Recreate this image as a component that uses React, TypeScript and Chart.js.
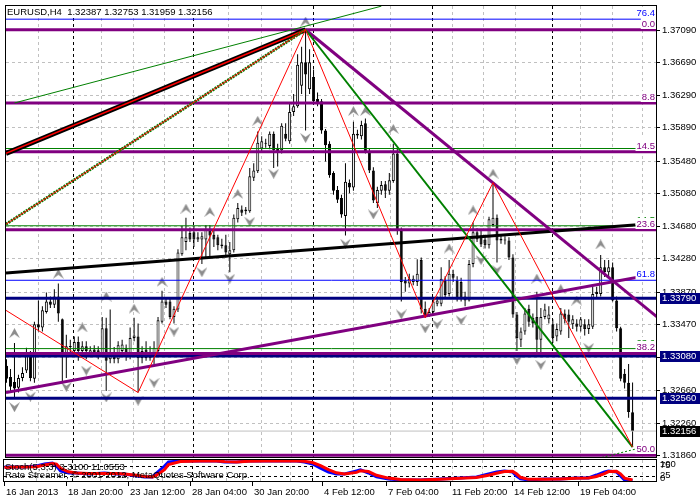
import React, { useEffect, useRef } from 'react';
import { Chart, registerables } from 'chart.js';

Chart.register(...registerables);

const FONT = '9.5px "Liberation Sans", Arial, sans-serif';

// ---------------- data ----------------
const symbolTitle = 'EURUSD,H4';
const lastBarOHLC = ['1.32387', '1.32753', '1.31959', '1.32156'];

const openP = [
  1.3296, 1.3282, 1.3276, 1.3269, 1.3281, 1.3290, 1.3308, 1.3280, 1.3347, 1.3343,
  1.3362, 1.3375, 1.3371, 1.3381, 1.3353, 1.3311, 1.3319, 1.3314, 1.3325, 1.3314,
  1.3320, 1.3311, 1.3316, 1.3315, 1.3310, 1.3342, 1.3304, 1.3311, 1.3304, 1.3314,
  1.3318, 1.3308, 1.3330, 1.3332, 1.3314, 1.3316, 1.3305, 1.3310, 1.3314, 1.3350,
  1.3375, 1.3375, 1.3356, 1.3365, 1.3433, 1.3448, 1.3459, 1.3460, 1.3451, 1.3451,
  1.3451, 1.3462, 1.3457, 1.3454, 1.3445, 1.3444, 1.3433, 1.3438, 1.3476, 1.3488,
  1.3488, 1.3486, 1.3527, 1.3535, 1.3563, 1.3569, 1.3566, 1.3581, 1.3563, 1.3561,
  1.3581, 1.3572, 1.3608, 1.3615, 1.3640, 1.3669, 1.3636, 1.3651, 1.3624, 1.3621,
  1.3585, 1.3569, 1.3533, 1.3512, 1.3502, 1.3480, 1.3521, 1.3515, 1.3579, 1.3578,
  1.3594, 1.3559, 1.3536, 1.3496, 1.3511, 1.3519, 1.3511, 1.3523, 1.3557, 1.3462,
  1.3401, 1.3397, 1.3399, 1.3399, 1.3426, 1.3366, 1.3358, 1.3362, 1.3372, 1.3372,
  1.3401, 1.3384, 1.3409, 1.3401, 1.3399, 1.3381, 1.3376, 1.3421, 1.3460, 1.3456,
  1.3451, 1.3444, 1.3469, 1.3478, 1.3452, 1.3451, 1.3450, 1.3429, 1.3359, 1.3328,
  1.3338, 1.3366, 1.3355, 1.3356, 1.3328, 1.3356, 1.3353, 1.3347, 1.3332, 1.3338,
  1.3360, 1.3359, 1.3347, 1.3348, 1.3344, 1.3347, 1.3341, 1.3344, 1.3387, 1.3384,
  1.3417, 1.3411, 1.3417, 1.3376, 1.3342, 1.3286, 1.3275, 1.32387,
];
const highP = [
  1.3304, 1.3292, 1.3324, 1.3285, 1.3294, 1.3318, 1.3314, 1.3350, 1.3376, 1.3369,
  1.3386, 1.3381, 1.3390, 1.3397, 1.3354, 1.3334, 1.3328, 1.3332, 1.3332, 1.3326,
  1.3326, 1.3320, 1.3321, 1.3320, 1.3356, 1.3355, 1.3365, 1.3319, 1.3326, 1.3328,
  1.3322, 1.3343, 1.3355, 1.3348, 1.3320, 1.3326, 1.3320, 1.3326, 1.3356, 1.3388,
  1.3379, 1.3379, 1.3369, 1.3439, 1.3468, 1.3478, 1.3466, 1.3468, 1.3460, 1.3460,
  1.3469, 1.3469, 1.3462, 1.3457, 1.3452, 1.3457, 1.3448, 1.3482, 1.3496, 1.3493,
  1.3491, 1.3539, 1.3545, 1.3584, 1.3578, 1.3575, 1.3584, 1.3584, 1.3569, 1.3594,
  1.3594, 1.3620, 1.3630, 1.3679, 1.3688, 1.3709, 1.3685, 1.3660, 1.3632, 1.3624,
  1.3587, 1.3572, 1.3535, 1.3517, 1.3506, 1.3545, 1.3525, 1.3596, 1.3586, 1.3597,
  1.3600, 1.3563, 1.3540, 1.3516, 1.3523, 1.3523, 1.3533, 1.3569, 1.3563, 1.3466,
  1.3405, 1.3409, 1.3407, 1.3427, 1.3429, 1.3375, 1.3367, 1.3379, 1.3381, 1.3417,
  1.3406, 1.3426, 1.3414, 1.3406, 1.3404, 1.3387, 1.3426, 1.3472, 1.3465, 1.3462,
  1.3457, 1.3479, 1.3521, 1.3482, 1.3457, 1.3455, 1.3454, 1.3433, 1.3362, 1.3343,
  1.3367, 1.3371, 1.3360, 1.3387, 1.3367, 1.3372, 1.3369, 1.3353, 1.3348, 1.3367,
  1.3365, 1.3365, 1.3358, 1.3353, 1.3356, 1.3353, 1.3353, 1.3393, 1.3393, 1.3432,
  1.3426, 1.3426, 1.3423, 1.3381, 1.3344, 1.3292, 1.3298, 1.32753,
];
const lowP = [
  1.3275, 1.3265, 1.3257, 1.3263, 1.3277, 1.3287, 1.3277, 1.3275, 1.3338, 1.3338,
  1.3360, 1.3367, 1.3367, 1.3350, 1.3277, 1.3281, 1.3311, 1.3308, 1.3302, 1.3308,
  1.3304, 1.3307, 1.3307, 1.3304, 1.3307, 1.3265, 1.3299, 1.3299, 1.3299, 1.3310,
  1.3302, 1.3304, 1.3326, 1.3263, 1.3299, 1.3302, 1.3302, 1.3298, 1.3310, 1.3348,
  1.3367, 1.3353, 1.3348, 1.3362, 1.3431, 1.3438, 1.3448, 1.3442, 1.3448, 1.3421,
  1.3429, 1.3429, 1.3442, 1.3438, 1.3440, 1.3429, 1.3411, 1.3435, 1.3472, 1.3480,
  1.3482, 1.3484, 1.3523, 1.3533, 1.3559, 1.3564, 1.3562, 1.3539, 1.3541, 1.3557,
  1.3572, 1.3569, 1.3603, 1.3613, 1.3630, 1.3585, 1.3630, 1.3618, 1.3615, 1.3581,
  1.3547, 1.3527, 1.3506, 1.3496, 1.3478, 1.3456, 1.3508, 1.3511, 1.3575, 1.3574,
  1.3557, 1.3533, 1.3496, 1.3490, 1.3506, 1.3502, 1.3506, 1.3521, 1.3457, 1.3375,
  1.3387, 1.3392, 1.3395, 1.3394, 1.3360, 1.3355, 1.3356, 1.3360, 1.3369, 1.3369,
  1.3378, 1.3381, 1.3399, 1.3375, 1.3375, 1.3369, 1.3375, 1.3417, 1.3448, 1.3442,
  1.3440, 1.3440, 1.3467, 1.3423, 1.3446, 1.3445, 1.3426, 1.3355, 1.3314, 1.3319,
  1.3334, 1.3344, 1.3343, 1.3310, 1.3307, 1.3353, 1.3348, 1.3324, 1.3326, 1.3334,
  1.3348, 1.3330, 1.3341, 1.3338, 1.3338, 1.3333, 1.3335, 1.3341, 1.3379, 1.3381,
  1.3405, 1.3406, 1.3375, 1.3338, 1.3277, 1.3268, 1.3232, 1.31959,
];
const closeP = [
  1.3280, 1.3270, 1.3268, 1.3281, 1.3287, 1.3309, 1.3281, 1.3347, 1.3343, 1.3364,
  1.3375, 1.3371, 1.3381, 1.3360, 1.3311, 1.3320, 1.3320, 1.3325, 1.3314, 1.3320,
  1.3314, 1.3315, 1.3311, 1.3309, 1.3342, 1.3302, 1.3311, 1.3304, 1.3321, 1.3322,
  1.3308, 1.3330, 1.3333, 1.3305, 1.3305, 1.3305, 1.3311, 1.3318, 1.3352, 1.3375,
  1.3371, 1.3356, 1.3366, 1.3435, 1.3454, 1.3454, 1.3451, 1.3451, 1.3454, 1.3455,
  1.3463, 1.3456, 1.3451, 1.3444, 1.3443, 1.3435, 1.3438, 1.3478, 1.3490, 1.3484,
  1.3486, 1.3529, 1.3536, 1.3570, 1.3572, 1.3570, 1.3581, 1.3561, 1.3559, 1.3591,
  1.3575, 1.3608, 1.3615, 1.3666, 1.3669, 1.3654, 1.3669, 1.3621, 1.3620, 1.3585,
  1.3567, 1.3530, 1.3511, 1.3500, 1.3482, 1.3522, 1.3515, 1.3581, 1.3581, 1.3592,
  1.3559, 1.3536, 1.3499, 1.3512, 1.3518, 1.3511, 1.3524, 1.3557, 1.3462, 1.3399,
  1.3397, 1.3403, 1.3403, 1.3409, 1.3365, 1.3358, 1.3362, 1.3375, 1.3376, 1.3403,
  1.3383, 1.3409, 1.3404, 1.3378, 1.3379, 1.3376, 1.3421, 1.3460, 1.3451, 1.3445,
  1.3444, 1.3476, 1.3478, 1.3450, 1.3450, 1.3450, 1.3429, 1.3359, 1.3330, 1.3338,
  1.3360, 1.3350, 1.3348, 1.3328, 1.3356, 1.3365, 1.3359, 1.3330, 1.3341, 1.3360,
  1.3353, 1.3350, 1.3353, 1.3344, 1.3353, 1.3341, 1.3347, 1.3384, 1.3384, 1.3417,
  1.3411, 1.3417, 1.3376, 1.3342, 1.3280, 1.3275, 1.3239, 1.32156,
];

const priceTicks = [1.3709, 1.3669, 1.3629, 1.3589, 1.3548, 1.3508, 1.3468, 1.3428, 1.3387, 1.3347, 1.3307, 1.3266, 1.3226, 1.3186];

const timeLabels = ['16 Jan 2013', '18 Jan 20:00', '23 Jan 12:00', '28 Jan 04:00', '30 Jan 20:00', '4 Feb 12:00', '7 Feb 04:00', '11 Feb 20:00', '14 Feb 12:00', '19 Feb 04:00'];
const timeIdx = [-0.125, 15.6, 30.9, 46.4, 61.9, 79.4, 95.6, 111.4, 127.1, 143.4];
const gridIdx = [7.9, 23.9, 31.9, 39.6, 55.6, 63.9, 71.4, 86.9, 96.4, 111.9, 119.6, 127.6, 143.9, 151.9, 159.6];
const separatorIdx = [16.9, 46.9, 76.9, 106.9, 136.9];

const fractalUpIdx = [2, 13, 19, 25, 32, 39, 45, 51, 58, 63, 75, 87, 90, 97, 111, 117, 122, 133, 139, 143, 149];
const fractalUpPrice = [1.3336, 1.3409, 1.3343, 1.3381, 1.3366, 1.3399, 1.3489, 1.3485, 1.3507, 1.3597, 1.3719, 1.3609, 1.3609, 1.3587, 1.3440, 1.3487, 1.3532, 1.3403, 1.3390, 1.3376, 1.3445];
const fractalDnIdx = [2, 6, 15, 20, 25, 33, 37, 42, 49, 56, 61, 67, 75, 85, 92, 99, 105, 108, 114, 119, 123, 128, 134, 146];
const fractalDnPrice = [1.3245, 1.3258, 1.3270, 1.3290, 1.3257, 1.3253, 1.3275, 1.3338, 1.3411, 1.3403, 1.3473, 1.3532, 1.3576, 1.3446, 1.3482, 1.3359, 1.3342, 1.3347, 1.3352, 1.3426, 1.3414, 1.3303, 1.3297, 1.3318];

const fibPurplePrices = [1.3709, 1.3619, 1.3559, 1.3463, 1.3311, 1.3186];
const fibPurpleLabels = ['0.0', '8.8', '14.5', '23.6', '38.2', '50.0'];
const fibGreenPrices = [1.3563, 1.3468, 1.3317];
const fibGreenLabels = ['0.0', '14.5', '23.6'];
const fibBluePrices = [1.3722, 1.3401];
const fibBlueLabels = ['76.4', '61.8'];
const supportPrices = [1.3379, 1.3308, 1.3256];
const bidPrice = 1.32156;

const zigzagIdx = [-0.125, 33, 75, 105, 122, 157];
const zigzagPrice = [1.3364, 1.3263, 1.3709, 1.3355, 1.3521, 1.31959];
const trendBlackIdx = [-0.125, 163.125];
const trendBlackPrice = [1.3410, 1.3471];
const trendPurpleUpIdx = [-0.125, 163.125];
const trendPurpleUpPrice = [1.3263, 1.3409];
const trendPurpleDnIdx = [75, 163.125];
const trendPurpleDnPrice = [1.3709, 1.3356];
const trendGreenDnIdx = [75, 157];
const trendGreenDnPrice = [1.3709, 1.31959];
const gannBlackIdx = [-0.125, 75];
const gannBlackPrice = [1.3557, 1.3709];
const gannGreenIdx = [-0.125, 75];
const gannGreenPrice = [1.3470, 1.3709];
const rayGreenIdx = [2, 94];
const rayGreenPrice = [1.3619, 1.3738];
const rayGreenLowIdx = [148.3, 163.125];
const rayGreenLowPrice = [1.3182, 1.3200];

const stochIdx = [0, 3, 5, 8, 10, 12, 13, 14, 16, 18, 21, 25, 28, 30, 33, 35, 37, 38, 40, 41, 44, 49, 53, 55, 58, 61, 65, 69, 73, 75, 77, 79, 81, 83, 85, 88, 89, 91, 93, 96, 99, 104, 109, 114, 118, 119, 121, 123, 125, 127, 128, 129, 131, 135, 139, 143, 146, 148, 150, 151, 153, 154, 155, 157];
const stochMain = [68, 68, 68, 73, 83, 88, 73, 49, 39, 39, 34, 39, 34, 34, 24, 20, 20, 39, 73, 93, 98, 98, 98, 93, 93, 98, 98, 98, 98, 93, 83, 63, 44, 34, 34, 49, 54, 39, 20, 10, 5, 5, 10, 15, 20, 24, 34, 44, 49, 44, 24, 10, 5, 10, 10, 15, 15, 29, 44, 49, 44, 24, 5, 2];
const stochSignal = [66, 68, 68, 70, 78, 85, 82, 62, 45, 39, 36, 37, 36, 34, 28, 22, 20, 28, 55, 80, 95, 98, 98, 95, 93, 96, 98, 98, 98, 96, 90, 75, 55, 40, 34, 42, 50, 46, 28, 14, 7, 5, 8, 13, 17, 21, 28, 38, 46, 47, 35, 18, 8, 8, 10, 13, 15, 22, 36, 46, 47, 35, 14, 5];
const stochLevels = [75, 25];
const stochTitle = 'Stoch(5,3,3) 3.3100 11.0553';
const copyrightText = 'Rate Streamer, © 2001-2012, MetaQuotes Software Corp.';

// ---------------- layout constants ----------------
const X_MIN = -0.125;
const X_MAX = 163.125;
const Y_MIN = 1.31825;
const Y_MAX = 1.37382;

const PURPLE = '#800080';
const NAVY = '#000080';
const GREEN = '#008000';
const BLUE = '#0000ff';
const RED = '#ff0000';

const pts = (xs: number[], ys: number[]) => xs.map((v, k) => ({ x: v, y: ys[k] }));
const hline = (p: number) => pts([X_MIN, X_MAX], [p, p]);

function lineDs(data: any[], color: string, width: number, extra: any = {}) {
  return {
    type: 'line', data, borderColor: color, borderWidth: width, pointRadius: 0,
    pointHoverRadius: 0, fill: false, tension: 0, borderCapStyle: 'butt', ...extra,
  };
}

function makeArrow(up: boolean) {
  const c = document.createElement('canvas');
  c.width = 11; c.height = 10;
  const g = c.getContext('2d')!;
  g.fillStyle = '#8c8c8c';
  g.beginPath();
  if (up) { g.moveTo(5.5, 0); g.lineTo(11, 10); g.lineTo(5.5, 6); g.lineTo(0, 10); }
  else { g.moveTo(5.5, 10); g.lineTo(11, 0); g.lineTo(5.5, 4); g.lineTo(0, 0); }
  g.closePath(); g.fill();
  return c;
}

const mainDecor = {
  id: 'mainDecor',
  beforeDatasetsDraw(chart: any) {
    const { ctx, chartArea: a } = chart;
    const xs = chart.scales.x, ys = chart.scales.y;
    ctx.save();
    ctx.beginPath(); ctx.rect(a.left, a.top, a.right - a.left, a.bottom - a.top); ctx.clip();
    ctx.lineWidth = 1;
    ctx.setLineDash([3, 3]);
    ctx.strokeStyle = '#c0c0c0';
    ctx.beginPath();
    priceTicks.forEach((p) => { const py = Math.round(ys.getPixelForValue(p)) + 0.5; ctx.moveTo(a.left, py); ctx.lineTo(a.right, py); });
    gridIdx.forEach((i) => { const px = Math.floor(xs.getPixelForValue(i)) + 0.5; ctx.moveTo(px, a.top); ctx.lineTo(px, a.bottom); });
    ctx.stroke();
    ctx.strokeStyle = '#000';
    ctx.beginPath();
    separatorIdx.forEach((i) => { const px = Math.floor(xs.getPixelForValue(i)) + 0.5; ctx.moveTo(px, a.top); ctx.lineTo(px, a.bottom); });
    ctx.stroke();
    ctx.restore();
  },
  afterDatasetsDraw(chart: any) {
    const { ctx, chartArea: a } = chart;
    const ys = chart.scales.y;
    ctx.save();
    ctx.font = FONT;
    ctx.setLineDash([]);
    const levelLabel = (txt: string, p: number, color: string) => {
      const py = Math.round(ys.getPixelForValue(p));
      const w = ctx.measureText(txt).width;
      const xr = a.right - 2;
      ctx.fillStyle = '#fff';
      ctx.fillRect(xr - w - 1, py - 12, w + 2, 11);
      ctx.fillStyle = color;
      ctx.textAlign = 'right';
      ctx.textBaseline = 'alphabetic';
      ctx.fillText(txt, xr, py - 3);
    };
    fibGreenPrices.forEach((p, k) => levelLabel(fibGreenLabels[k], p, GREEN));
    fibBluePrices.forEach((p, k) => levelLabel(fibBlueLabels[k], p, BLUE));
    fibPurplePrices.forEach((p, k) => levelLabel(fibPurpleLabels[k], p, PURPLE));

    const head = symbolTitle + '  ' + lastBarOHLC.join(' ');
    const hw = ctx.measureText(head).width;
    ctx.fillStyle = '#fff';
    ctx.fillRect(6, 4, hw + 3, 13);
    ctx.fillStyle = '#000';
    ctx.textAlign = 'left';
    ctx.textBaseline = 'alphabetic';
    ctx.fillText(head, 7, 15);

    ctx.strokeStyle = '#000';
    ctx.lineWidth = 1;
    ctx.strokeRect(a.left - 0.5, a.top - 0.5, a.right - a.left, a.bottom - a.top);

    ctx.textBaseline = 'middle';
    ctx.beginPath();
    priceTicks.forEach((p) => {
      const py = Math.round(ys.getPixelForValue(p)) + 0.5;
      ctx.moveTo(a.right, py); ctx.lineTo(a.right + 3, py);
    });
    ctx.stroke();
    ctx.fillStyle = '#000';
    priceTicks.forEach((p) => {
      const py = Math.round(ys.getPixelForValue(p)) + 0.5;
      ctx.fillText(p.toFixed(5), a.right + 5, py);
    });
    const box = (p: number, bg: string) => {
      const py = Math.round(ys.getPixelForValue(p));
      ctx.fillStyle = bg;
      ctx.fillRect(a.right + 3, py - 5, 700 - a.right - 3, 11);
      ctx.fillStyle = '#fff';
      ctx.fillText(p.toFixed(5), a.right + 5, py + 0.5);
    };
    supportPrices.forEach((p) => box(p, NAVY));
    box(bidPrice, '#000');
    ctx.restore();
  },
};

const subDecor = {
  id: 'subDecor',
  beforeDatasetsDraw(chart: any) {
    const { ctx, chartArea: a } = chart;
    const xs = chart.scales.x, ys = chart.scales.y;
    ctx.save();
    ctx.beginPath(); ctx.rect(a.left, a.top, a.right - a.left, a.bottom - a.top); ctx.clip();
    ctx.lineWidth = 1;
    ctx.setLineDash([3, 3]);
    ctx.strokeStyle = '#c0c0c0';
    ctx.beginPath();
    gridIdx.forEach((i) => { const px = Math.floor(xs.getPixelForValue(i)) + 0.5; ctx.moveTo(px, a.top); ctx.lineTo(px, a.bottom); });
    ctx.stroke();
    ctx.strokeStyle = '#000';
    ctx.beginPath();
    separatorIdx.forEach((i) => { const px = Math.floor(xs.getPixelForValue(i)) + 0.5; ctx.moveTo(px, a.top); ctx.lineTo(px, a.bottom); });
    stochLevels.forEach((v) => { const py = Math.round(ys.getPixelForValue(v)) + 0.5; ctx.moveTo(a.left, py); ctx.lineTo(a.right, py); });
    ctx.stroke();
    ctx.restore();
  },
  afterDatasetsDraw(chart: any) {
    const { ctx, chartArea: a } = chart;
    const xs = chart.scales.x, ys = chart.scales.y;
    ctx.save();
    ctx.font = FONT;
    ctx.fillStyle = '#000';
    ctx.textAlign = 'left';
    ctx.textBaseline = 'alphabetic';
    ctx.fillText(stochTitle, 5, 12);
    ctx.fillText(copyrightText, 5, 20);
    ctx.strokeStyle = '#000';
    ctx.lineWidth = 1;
    ctx.strokeRect(a.left - 0.5, a.top - 0.5, a.right - a.left, a.bottom - a.top);
    ctx.textBaseline = 'top';
    ctx.fillText('100', a.right + 3, a.top);
    ctx.textBaseline = 'middle';
    stochLevels.forEach((v) => ctx.fillText(String(v), a.right + 3, ys.getPixelForValue(v)));
    ctx.textBaseline = 'bottom';
    ctx.fillText('0', a.right + 3, a.bottom + 1);
    ctx.beginPath();
    timeIdx.forEach((i) => {
      const px = Math.max(a.left - 1, Math.floor(xs.getPixelForValue(i))) + 0.5;
      ctx.moveTo(px, a.bottom); ctx.lineTo(px, a.bottom + 4);
    });
    ctx.stroke();
    ctx.textBaseline = 'top';
    timeIdx.forEach((i, k) => {
      const px = Math.max(a.left - 1, Math.floor(xs.getPixelForValue(i)));
      ctx.fillText(timeLabels[k], px + 2, a.bottom + 6);
    });
    ctx.restore();
  },
};

export default function App() {
  const mainRef = useRef<HTMLCanvasElement>(null);
  const subRef = useRef<HTMLCanvasElement>(null);

  useEffect(() => {
    const idx = openP.map((_, i) => i);
    const wickData = idx.map((i) => ({ x: i, y: [lowP[i], highP[i]] }));
    const bodyData = idx.map((i) => ({ x: i, y: [openP[i], closeP[i]] }));
    const bodyColors = idx.map((i) => (closeP[i] >= openP[i] ? '#ffffff' : '#000000'));
    const upArrow = makeArrow(true);
    const dnArrow = makeArrow(false);

    const layers: any[] = [
      { type: 'bar', data: wickData, backgroundColor: '#000', borderWidth: 0, grouped: false, barThickness: 1, maxBarThickness: 1, inflateAmount: 0 },
      { type: 'bar', data: bodyData, backgroundColor: bodyColors, borderColor: '#000', borderWidth: 1, borderSkipped: false, grouped: false, barThickness: 3, maxBarThickness: 3, minBarLength: 1, inflateAmount: 0 },
      { type: 'scatter', data: pts(fractalUpIdx, fractalUpPrice), pointStyle: upArrow, pointRadius: 5, pointHoverRadius: 5, showLine: false },
      { type: 'scatter', data: pts(fractalDnIdx, fractalDnPrice), pointStyle: dnArrow, pointRadius: 5, pointHoverRadius: 5, showLine: false },
      lineDs(hline(bidPrice), '#c0c0c0', 1),
      ...fibBluePrices.map((p) => lineDs(hline(p), BLUE, 1)),
      ...fibGreenPrices.map((p) => lineDs(hline(p), GREEN, 1)),
      ...supportPrices.map((p) => lineDs(hline(p), NAVY, 3)),
      ...fibPurplePrices.map((p) => lineDs(hline(p), PURPLE, 3)),
      lineDs(pts(trendBlackIdx, trendBlackPrice), '#000', 3),
      lineDs(pts(trendPurpleUpIdx, trendPurpleUpPrice), PURPLE, 3),
      lineDs(pts(trendPurpleDnIdx, trendPurpleDnPrice), PURPLE, 3),
      lineDs(pts(trendGreenDnIdx, trendGreenDnPrice), GREEN, 2),
      lineDs(pts(rayGreenIdx, rayGreenPrice), GREEN, 1),
      lineDs(pts(rayGreenLowIdx, rayGreenLowPrice), GREEN, 1, { borderDash: [2, 2] }),
      lineDs(pts(gannBlackIdx, gannBlackPrice), '#000', 5),
      lineDs(pts(gannBlackIdx, gannBlackPrice), RED, 1.5),
      lineDs(pts(gannGreenIdx, gannGreenPrice), GREEN, 3, { borderDash: [2, 1] }),
      lineDs(pts(gannGreenIdx, gannGreenPrice), RED, 1),
      lineDs(pts(zigzagIdx, zigzagPrice), RED, 1),
    ];
    const n = layers.length;
    layers.forEach((d, k) => { d.order = n - k; });

    const main = new Chart(mainRef.current as HTMLCanvasElement, {
      type: 'bar',
      data: { datasets: layers },
      options: {
        responsive: false,
        animation: false,
        events: [],
        layout: { padding: { left: 4, right: 43, top: 1, bottom: 42 } },
        plugins: { legend: { display: false }, tooltip: { enabled: false } },
        scales: {
          x: { type: 'linear', min: X_MIN, max: X_MAX, display: false, offset: false },
          y: { type: 'linear', min: Y_MIN, max: Y_MAX, display: false },
        },
      } as any,
      plugins: [mainDecor],
    } as any);

    const sub = new Chart(subRef.current as HTMLCanvasElement, {
      type: 'line',
      data: {
        datasets: [
          { ...lineDs(pts(stochIdx, stochSignal), RED, 3), order: 1 },
          { ...lineDs(pts(stochIdx, stochMain), BLUE, 3), order: 2 },
        ],
      },
      options: {
        responsive: false,
        animation: false,
        events: [],
        layout: { padding: { left: 4, right: 43, top: 2, bottom: 18 } },
        plugins: { legend: { display: false }, tooltip: { enabled: false } },
        scales: {
          x: { type: 'linear', min: X_MIN, max: X_MAX, display: false },
          y: { type: 'linear', min: -5, max: 102.4, display: false },
        },
      } as any,
      plugins: [subDecor],
    } as any);

    return () => { main.destroy(); sub.destroy(); };
  }, []);

  return (
    <div style={{ position: 'fixed', left: 0, top: 0, width: 700, height: 500, background: '#fff' }}>
      <canvas ref={mainRef} width={700} height={500} style={{ position: 'absolute', left: 0, top: 0 }} />
      <canvas ref={subRef} width={700} height={42} style={{ position: 'absolute', left: 0, top: 458 }} />
    </div>
  );
}
